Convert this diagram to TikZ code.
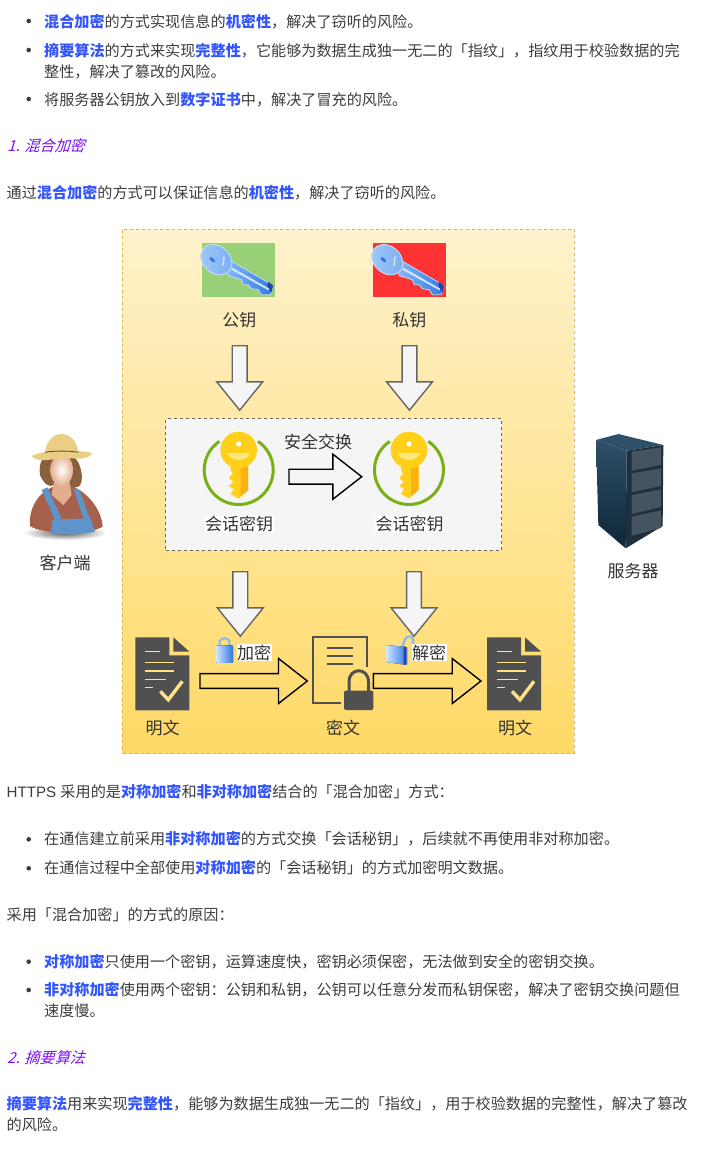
\documentclass[tikz,border=0pt]{standalone}
\usepackage{fontspec}
\usepackage{xcolor}
\setmainfont{Noto Sans CJK SC}
\newfontfamily\latinfont{Liberation Sans}
\newfontfamily\slantfont[FakeSlant=0.3]{Noto Sans CJK SC}
\usetikzlibrary{shapes,arrows,positioning,fit,calc}

\definecolor{txtgray}{HTML}{3C3C3C}
\definecolor{hlblue}{HTML}{3355FF}
\definecolor{headpurple}{HTML}{7A10F0}
\definecolor{docgray}{HTML}{505050}
\definecolor{docline}{HTML}{FFE28A}
\definecolor{boxline}{HTML}{D6B656}
\definecolor{boxtop}{HTML}{FFF2CC}
\definecolor{boxbot}{HTML}{FFD966}
\definecolor{pubgreen}{HTML}{97D077}
\definecolor{prired}{HTML}{FF3333}
\definecolor{ringgreen}{HTML}{78B015}
\definecolor{goldbody}{HTML}{FFCF1A}
\definecolor{goldedge}{HTML}{F9B210}
\definecolor{goldsmile}{HTML}{FFE680}
\definecolor{keylight}{HTML}{D2E6FC}
\definecolor{keymid}{HTML}{86B8F6}
\definecolor{keydark}{HTML}{2F78E6}
\definecolor{keydeep}{HTML}{2A3FA8}
\definecolor{hatcol}{HTML}{E9CE84}
\definecolor{shirtcol}{HTML}{A6604C}
\definecolor{haircol}{HTML}{8A5F3C}
\definecolor{skincol}{HTML}{E3AE90}
\definecolor{denimcol}{HTML}{5E94C9}
\definecolor{srvtop}{HTML}{2D5068}
\definecolor{srvmid}{HTML}{0F2636}
\definecolor{srvfront}{HTML}{1C3040}
\definecolor{srvbay}{HTML}{46545F}
\newcommand{\hlt}[1]{{\bfseries\color{hlblue}#1}}

\tikzset{
  txtline/.style={anchor=base west, inner sep=0pt, text=txtgray, font=\fontsize{15.13}{18}\selectfont},
  headline/.style={anchor=base west, inner sep=0pt, text=headpurple, font=\fontsize{15.13}{18}\selectfont\slantfont},
  dotbul/.style={circle, fill=txtgray, inner sep=0pt, minimum size=4.6pt},
  lab/.style={inner sep=0.5pt, text=black!80, font=\fontsize{17}{20}\selectfont},
  whitelab/.style={lab, fill=white},
  keybg/.style={minimum width=72.7pt, minimum height=54pt, inner sep=0pt},
  downarrow/.style={single arrow, draw=black!60, fill=black!4, line width=1.4pt, inner sep=6.7pt, outer sep=0pt,
    minimum width=46pt, minimum height=64.5pt, single arrow tip angle=78, single arrow head extend=15.5pt,
    anchor=tail, rotate=-90},
  rightarrow/.style={single arrow, draw=black, line width=1.4pt, inner sep=6.7pt, outer sep=0pt,
    minimum width=45pt, single arrow tip angle=76, single arrow head extend=15pt, anchor=tail},
  bluekey/.pic={
    \fill[left color=keymid, right color=keydark, draw=keylight, line width=0.7pt]
      (24,24) -- (30,19) -- (71,43) -- (68,52) -- (59,52) -- (56,47) -- (49,46) -- (46,42) -- (41,42) -- (39,37) -- (26,33) -- cycle;
    \fill[keylight] (30,25) -- (67,46) -- (66,47.5) -- (29,27) -- cycle;
    \fill[keydeep] (66,39) -- (71,43) -- (69,50) -- (65,43) -- cycle;
    \fill[left color=keymid!65!keylight, right color=keymid!85!keydark, draw=keylight, line width=0.8pt, rotate around={-42:(14,17)}]
      (14,17) ellipse (17pt and 13.5pt);
    \fill[keydark, rotate around={-40:(10,17)}] (10,17) ellipse (3.4pt and 1.7pt);
    \fill[keylight] (21,14) -- (22.5,14) -- (21.5,23) -- (20,23) -- cycle;
  },
  goldkey/.pic={
    \draw[ringgreen, line width=3pt] (124:34.5pt) arc[start angle=124, end angle=416, radius=34.5pt];
    \fill[goldbody] (-8,-5) -- (9.5,-5) -- (9.5,20) -- (0,28.5) -- (-8,24) -- (-5,19) -- (-10,16) -- (-5,12) -- (-10,8) -- (-6,4) -- (-8,0) -- cycle;
    \fill[goldedge] (2,-3) -- (9.5,-3) -- (9.5,20) -- (2,26.5) -- cycle;
    \fill[goldbody] (0,-20) circle (18.3pt);
    \fill[goldsmile] (-11.5,-17) .. controls (-8,-8) and (8,-8) .. (11.5,-17) -- cycle;
    \fill[white] (0,-26) circle (2.6pt);
  },
  notedoc/.pic={
    \fill[docgray] (0,0) -- (34,0) -- (34,18) -- (54,18) -- (54,73) -- (0,73) -- cycle;
    \fill[docgray] (38,0) -- (54,14.3) -- (38,14.3) -- cycle;
    \draw[docline, line width=1.6pt]
      (10,14.3) -- (25,14.3) (10,25.3) -- (39,25.3) (10,33.5) -- (39,33.5) (10,42) -- (31,42) (10,50) -- (18,50);
    \draw[docline, line width=3.4pt] (25,54) -- (33,62.5) -- (47,44);
  },
  smalllock/.pic={
    \draw[keymid, line width=2pt] (3.5,10) -- (3.5,6) .. controls (3.5,-1) and (13.5,-1) .. (13.5,6) -- (13.5,10);
    \fill[left color=keylight, right color=keydark, rounded corners=1pt] (0,8) rectangle (17,25.5);
  },
  openlock/.pic={
    \draw[keymid, line width=2.2pt] (17,12) .. controls (18,2) and (26,-1) .. (27,6) -- (27,14);
    \fill[left color=keylight, right color=keydark, rounded corners=1pt] (0,11) -- (21,13) -- (21,31) -- (0,28) -- cycle;
    \fill[keydeep] (17.5,13) -- (20,13.2) -- (20,30.5) -- (17.5,30) -- cycle;
  }
}

\begin{document}
\begin{tikzpicture}[x=1pt,y=-1pt]
  \useasboundingbox (0,0) rectangle (726,1165);

  % Bullets
  \foreach \y in {21,50,99,839.3,868.3,961.7,990}
    \node[dotbul] (bul\y) at (28.7,\y) {};

  % Text above
  \node[txtline] (t1) at (44,27) {\hlt{混合加密}的方式实现信息的\hlt{机密性}，解决了窃听的风险。};
  \node[txtline] (t2) at (44,56) {\hlt{摘要算法}的方式来实现\hlt{完整性}，它能够为数据生成独一无二的「指纹」，指纹用于校验数据的完};
  \node[txtline] (t3) at (44,77.5) {整性，解决了篡改的风险。};
  \node[txtline] (t4) at (44,105) {将服务器公钥放入到\hlt{数字证书}中，解决了冒充的风险。};
  \node[headline] (h1) at (7,151) {1. 混合加密};
  \node[txtline] (t5) at (6.5,198) {通过\hlt{混合加密}的方式可以保证信息的\hlt{机密性}，解决了窃听的风险。};

  % Yellow box
  \node[draw=boxline, dashed, line width=0.9pt, top color=boxtop, bottom color=boxbot,
    minimum width=451.3pt, minimum height=524pt, inner sep=0pt] (outer) at (348.3,491) {};

  % Keys on top
  \node[keybg, fill=pubgreen] (pubbg) at (238.7,269.7) {};
  \node[keybg, fill=prired] (pribg) at (409.7,269.7) {};
  \pic at (202.3,242.7) {bluekey};
  \pic at (373.3,242.7) {bluekey};
  \node[lab] (pub) at (239.3,320) {公钥};
  \node[lab] (pri) at (409.3,320) {私钥};
  \node[downarrow] (arr1) at (239.7,345.7) {};
  \node[downarrow] (arr2) at (409.5,345.7) {};

  % Session box
  \node[draw=black!60, dashed, line width=1pt, fill=black!4, minimum width=335.7pt, minimum height=131.3pt, inner sep=0pt] (sess) at (333.8,484.4) {};
  \pic at (238.7,470) {goldkey};
  \pic at (409,470) {goldkey};
  \node[whitelab] (sk1) at (239,524) {会话密钥};
  \node[whitelab] (sk2) at (409.5,524) {会话密钥};
  \node[lab] (swap) at (318,441.7) {安全交换};
  \node[rightarrow, fill=black!4, minimum height=72.7pt] (arr3) at (289,476.7) {};

  % Arrows from session box
  \node[downarrow] (arr4) at (240.3,571.7) {};
  \node[downarrow] (arr5) at (414,571.7) {};

  % Docs
  \pic at (135.3,637.3) {notedoc};
  \pic at (487,637.3) {notedoc};
  \node[lab] (m1) at (162.7,728) {明文};
  \node[lab] (m2) at (515,728) {明文};
  \node[lab] (c1) at (343,728) {密文};

  % Locked doc
  \draw[docgray, line width=2.2pt] (341,702.7) -- (312.7,702.7) -- (312.7,637.3) -- (367,637.3) -- (367,667);
  \draw[docgray, line width=2.2pt] (326.7,648.3) -- (353.3,648.3) (326.7,656) -- (353.3,656) (326.7,664) -- (353.3,664);
  \draw[docgray, line width=3pt] (349,692) -- (349,682) .. controls (349,667) and (368.5,667) .. (368.5,682) -- (368.5,692);
  \fill[docgray, rounded corners=2pt] (344,690.5) rectangle (373.3,710);

  % Big arrows
  \node[rightarrow, fill=boxbot!90!white, minimum height=107.3pt] (enc) at (200,681) {};
  \node[rightarrow, fill=boxbot!90!white, minimum height=107.7pt] (dec) at (373.3,681) {};

  % Lock labels
  \pic at (216,637.3) {smalllock};
  \pic at (386,634) {openlock};
  \node[whitelab] (enclab) at (254,652.5) {加密};
  \node[whitelab] (declab) at (429,652.5) {解密};

  % Client
  \begin{scope}[shift={(10,420)},scale=1/3]
    \shade[inner color=black!65, outer color=white] (165,338) ellipse (125pt and 22pt);
    \fill[shirtcol] (60,318) .. controls (55,260) and (90,215) .. (130,200) -- (190,200) .. controls (235,220) and (275,270) .. (278,320) .. controls (240,345) and (100,345) .. (60,318) -- cycle;
    \fill[haircol] (90,165) .. controls (85,125) and (100,105) .. (120,110) -- (190,110) .. controls (215,125) and (225,190) .. (205,200) .. controls (190,205) and (180,200) .. (175,195) -- (130,195) .. controls (120,205) and (100,190) .. (90,165) -- cycle;
    \fill[skincol] (132,185) -- (178,185) -- (185,225) -- (160,255) -- (125,225) -- cycle;
    \shade[inner color=white, outer color=skincol] (155,150) ellipse (34pt and 48pt);
    \fill[denimcol] (95,210) -- (112,202) -- (155,295) -- (135,300) -- cycle;
    \fill[denimcol] (190,205) -- (208,210) -- (240,295) -- (222,300) -- cycle;
    \fill[denimcol] (128,298) -- (242,295) -- (255,335) .. controls (210,345) and (160,345) .. (122,338) -- cycle;
    \fill[hatcol] (105,105) .. controls (105,70) and (125,42) .. (155,42) .. controls (185,42) and (205,70) .. (205,105) -- cycle;
    \fill[hatcol] (65,108) .. controls (100,88) and (210,88) .. (248,100) .. controls (225,125) and (195,112) .. (155,115) .. controls (120,117) and (85,130) .. (65,108) -- cycle;
    \draw[haircol!70!black, line width=0.8pt] (105,97) .. controls (130,92) and (180,92) .. (205,97);
  \end{scope}
  \node[lab] (client) at (65,563) {客户端};

  % Server
  \begin{scope}[shift={(580,420)},scale=1/3]
    \fill[srvtop] (48,60) -- (115,42) -- (250,75) -- (140,92) -- cycle;
    \shade[top color=srvtop, middle color=srvmid, bottom color=srvmid] (48,60) -- (140,92) -- (137,385) -- (55,315) -- cycle;
    \fill[srvfront] (140,92) -- (250,75) -- (248,318) -- (137,385) -- cycle;
    \foreach \i in {0,1,2,3}
      \fill[srvbay] (155,{95+\i*65}) -- (243,{82+\i*63}) -- (243,{135+\i*63}) -- (155,{152+\i*65}) -- cycle;
  \end{scope}
  \node[lab] (server) at (633,570.7) {服务器};

  % Text below
  \node[txtline] (t6) at (6.5,797.5) {{\latinfont HTTPS }采用的是\hlt{对称加密}和\hlt{非对称加密}结合的「混合加密」方式：};
  \node[txtline] (t7) at (44,844.5) {在通信建立前采用\hlt{非对称加密}的方式交换「会话秘钥」，后续就不再使用非对称加密。};
  \node[txtline] (t8) at (44,873.5) {在通信过程中全部使用\hlt{对称加密}的「会话秘钥」的方式加密明文数据。};
  \node[txtline] (t9) at (6.5,920.5) {采用「混合加密」的方式的原因：};
  \node[txtline] (t10) at (44,967) {\hlt{对称加密}只使用一个密钥，运算速度快，密钥必须保密，无法做到安全的密钥交换。};
  \node[txtline] (t11) at (44,995.5) {\hlt{非对称加密}使用两个密钥：公钥和私钥，公钥可以任意分发而私钥保密，解决了密钥交换问题但};
  \node[txtline] (t12) at (44,1016) {速度慢。};
  \node[headline] (h2) at (7,1063) {2. 摘要算法};
  \node[txtline] (t13) at (6.5,1109.5) {\hlt{摘要算法}用来实现\hlt{完整性}，能够为数据生成独一无二的「指纹」，用于校验数据的完整性，解决了篡改};
  \node[txtline] (t14) at (6.5,1130.5) {的风险。};
\end{tikzpicture}
\end{document}
